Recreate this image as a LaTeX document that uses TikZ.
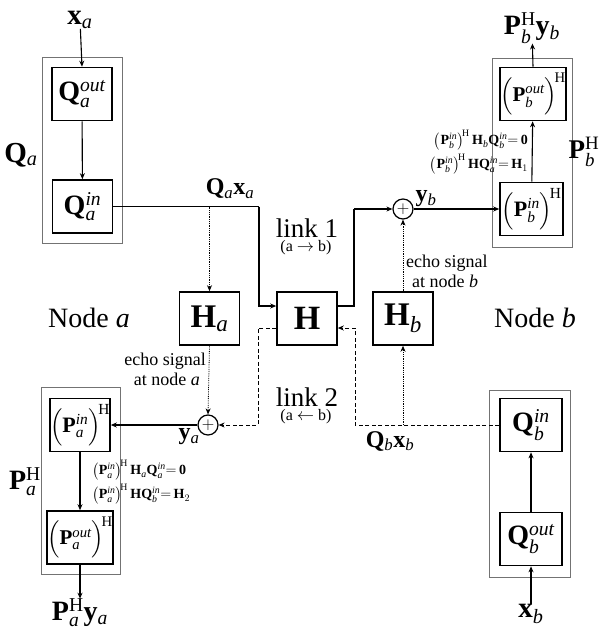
\documentclass[tikz,border=0pt]{standalone}
\usepackage{amsmath}
\usepackage{fontspec}
\setmainfont{Liberation Serif}
\usetikzlibrary{arrows.meta}
\newcommand{\fs}[1]{\fontsize{#1}{#1}\selectfont}
\newcommand{\mb}[1]{\mathbf{#1}}
\newcommand{\mi}[1]{\mathit{#1}}
\begin{document}
\begin{tikzpicture}[x=1pt,y=-1pt,
  blk/.style={draw,line width=1.6pt,inner sep=0pt,minimum width=60pt,minimum height=53pt},
  grp/.style={draw=black!55,line width=0.7pt},
  sumn/.style={draw,line width=1.2pt,circle,inner sep=0pt,minimum size=20pt},
  sig/.style={line width=1.1pt,-{Stealth[length=6pt,width=5pt]}},
  sign/.style={line width=1.1pt},
  dsig/.style={line width=1pt,dashed,dash pattern=on 4pt off 2.5pt,-{Stealth[length=6pt,width=5pt]}},
  dtsig/.style={line width=0.8pt,densely dotted,-{Stealth[length=6pt,width=5pt]}},
  lbl/.style={inner sep=0pt}]
\useasboundingbox (0,0) rectangle (599,634);
% group boxes
\draw[grp] (42,57) rectangle (122,243);
\draw[grp] (492,58) rectangle (572,247);
\draw[grp] (41,387) rectangle (120,574);
\draw[grp] (489,390) rectangle (570,577);
% blocks
\node[blk] (Qaout) at (82,94) {\fs{28}$\mb{Q}_{\mi{a}}^{\mi{out}}$};
\node[blk] (Qain) at (82.5,206.5) {\fs{28}$\mb{Q}_{\mi{a}}^{\mi{in}}$};
\node[blk] (Ha) at (209.5,318.5) {\fs{33}$\mb{H}_{\mi{a}}$};
\node[blk] (H) at (307,318.5) {\fs{34}$\mb{H}$};
\node[blk] (Hb) at (403,318.5) {\fs{33}$\mb{H}_{\mi{b}}$};
\node[blk] (Pbout) at (533,94) {\fs{21}$\left(\mb{P}_{\mi{b}}^{\mi{out}}\vphantom{\Big|}\right)^{\!\mathrm{H}}$};
\node[blk,minimum width=63pt] (Pbin) at (531.5,209) {\fs{22}$\left(\mb{P}_{\mi{b}}^{\mi{in}}\vphantom{\Big|}\right)^{\!\mathrm{H}}$};
\node[blk] (Pain) at (80,425) {\fs{22}$\left(\mb{P}_{\mi{a}}^{\mi{in}}\vphantom{\Big|}\right)^{\!\mathrm{H}}$};
\node[blk] (Paout) at (80,537.5) {\fs{21}$\left(\mb{P}_{\mi{a}}^{\mi{out}}\vphantom{\Big|}\right)^{\!\mathrm{H}}$};
\node[blk,minimum width=62pt] (Qbin) at (531,425) {\fs{28}$\mb{Q}_{\mi{b}}^{\mi{in}}$};
\node[blk,minimum width=62pt] (Qbout) at (531,539) {\fs{28}$\mb{Q}_{\mi{b}}^{\mi{out}}$};
% sums
\node[sumn] (sb) at (403,209) {\fs{18}$+$};
\node[sumn] (sa) at (208,425) {\fs{18}$+$};
% outer labels
\node[lbl] (xa) at (80,20) {\fs{29}$\mb{x}_{\mi{a}}$};
\node[lbl] (Qa) at (21,155) {\fs{29}$\mb{Q}_{\mi{a}}$};
\node[lbl] (Qaxa) at (230,189) {\fs{24}$\mb{Q}_{\mi{a}}\mb{x}_{\mi{a}}$};
\node[lbl] (l1) at (307,228) {\fs{27}link 1};
\node[lbl] (l1d) at (306,248) {\fs{16}(a $\rightarrow$ b)};
\node[lbl] (yb) at (426,199) {\fs{24}$\mb{y}_{\mi{b}}$};
\node[lbl,anchor=west] (eb1) at (406,263) {\fs{18}echo signal};
\node[lbl,anchor=west] (eb2) at (412,281) {\fs{18}at node \textit{b}};
\node[lbl] (na) at (89,318) {\fs{28}Node \textit{a}};
\node[lbl] (nb) at (535,318) {\fs{28}Node \textit{b}};
\node[lbl,anchor=east] (ea1) at (206,361) {\fs{18}echo signal};
\node[lbl,anchor=east] (ea2) at (200,379) {\fs{18}at node \textit{a}};
\node[lbl] (ya) at (189,437) {\fs{24}$\mb{y}_{\mi{a}}$};
\node[lbl] (l2) at (307,397) {\fs{27}link 2};
\node[lbl] (l2d) at (306,417) {\fs{16}(a $\leftarrow$ b)};
\node[lbl] (Qbxb) at (390,441) {\fs{24}$\mb{Q}_{\mi{b}}\mb{x}_{\mi{b}}$};
\node[lbl] (PbHyb) at (532,28) {\fs{28}$\mb{P}_{\mi{b}}^{\mathrm{H}}\mb{y}_{\mi{b}}$};
\node[lbl] (PbH) at (584,152) {\fs{27}$\mb{P}_{\mi{b}}^{\mathrm{H}}$};
\node[lbl,anchor=east] (eqb1) at (528,140) {\fs{14}$\left(\mb{P}_{\mi{b}}^{\mi{in}}\vphantom{\big|}\right)^{\!\mathrm{H}}\mb{H}_{\mi{b}}\mb{Q}_{\mi{b}}^{\mi{in}}{=}\,\mb{0}$};
\node[lbl,anchor=east] (eqb2) at (528,164) {\fs{14}$\left(\mb{P}_{\mi{b}}^{\mi{in}}\vphantom{\big|}\right)^{\!\mathrm{H}}\mb{H}\mb{Q}_{\mi{a}}^{\mi{in}}{=}\,\mb{H}_1$};
\node[lbl] (PaH) at (25,482) {\fs{28}$\mb{P}_{\mi{a}}^{\mathrm{H}}$};
\node[lbl,anchor=west] (eqa1) at (92,470) {\fs{14}$\left(\mb{P}_{\mi{a}}^{\mi{in}}\vphantom{\big|}\right)^{\!\mathrm{H}}\mb{H}_{\mi{a}}\mb{Q}_{\mi{a}}^{\mi{in}}{=}\,\mb{0}$};
\node[lbl,anchor=west] (eqa2) at (92,494) {\fs{14}$\left(\mb{P}_{\mi{a}}^{\mi{in}}\vphantom{\big|}\right)^{\!\mathrm{H}}\mb{H}\mb{Q}_{\mi{b}}^{\mi{in}}{=}\,\mb{H}_2$};
\node[lbl] (PaHya) at (80,613) {\fs{28}$\mb{P}_{\mi{a}}^{\mathrm{H}}\mb{y}_{\mi{a}}$};
\node[lbl] (xb) at (531,614) {\fs{29}$\mb{x}_{\mi{b}}$};
% routing coordinates
\coordinate (c1) at (259,206.5);
\coordinate (c2) at (259,306);
\coordinate (c3) at (354,306);
\coordinate (c4) at (354,209);
\coordinate (tap1) at (209.5,206.5);
\coordinate (d1) at (258,328);
\coordinate (d2) at (258,425);
\coordinate (d3) at (355,425);
\coordinate (d4) at (355,328);
\coordinate (tap2) at (403,425);
% node a chain
\draw[sig] (xa) -- (Qaout.north);
\draw[sig] (Qaout) -- (Qain);
\draw[sign] (Qain.east) -- (c1);
\draw[sig] (c1) -- (c2) -- (H.west |- c2);
\draw[dtsig] (tap1) -- (Ha.north);
\draw[dtsig] (Ha.south) -- (sa.north);
\draw[sig] (sa.west) -- (Pain.east);
\draw[sig] (Pain) -- (Paout);
\draw[sig] (Paout.south) -- (PaHya);
% link 1
\draw[sign] (H.east |- c3) -- (c3) -- (c4);
\draw[sig] (c4) -- (sb.west);
\draw[sig] (sb.east) -- (Pbin.west);
\draw[dtsig] (Hb.north) -- (sb.south);
\draw[sig] (Pbin) -- (Pbout);
\draw[sig] (Pbout.north) -- (PbHyb);
% link 2
\draw[sig] (xb) -- (Qbout.south);
\draw[sig] (Qbout) -- (Qbin);
\draw[dsig] (Qbin.west) -- (d3) -- (d4) -- (H.east |- d4);
\draw[dsig] (H.west |- d1) -- (d1) -- (d2) -- (sa.east);
\draw[dtsig] (tap2) -- (Hb.south);
\end{tikzpicture}
\end{document}
